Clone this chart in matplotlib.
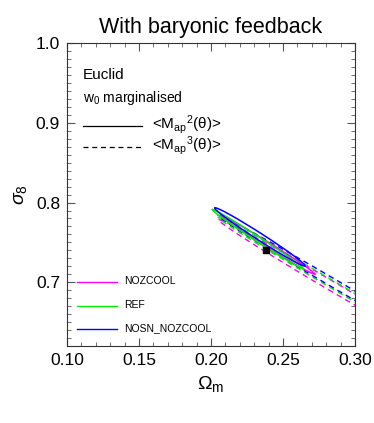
import matplotlib
matplotlib.use("Agg")
import matplotlib.pyplot as plt
from matplotlib.patches import Ellipse
from matplotlib.ticker import MultipleLocator

plt.rcParams['font.family'] = ['Liberation Sans', 'DejaVu Sans']
plt.rcParams['mathtext.fontset'] = 'custom'
plt.rcParams['mathtext.rm'] = 'Liberation Sans'
plt.rcParams['mathtext.it'] = 'Liberation Sans:italic'

# ---- data ----
models = ['NOZCOOL', 'REF', 'NOSN_NOZCOOL']
colors = ['#ff00ff', '#00ee00', '#0000ff']

# Map^2 (solid) contours: centre, length, thickness, angle (data space)
m2_om = [0.2398, 0.2325, 0.2340]
m2_s8 = [0.7465, 0.7542, 0.7569]
m2_w = [0.0976, 0.0975, 0.0961]
m2_h = [0.0050, 0.0048, 0.0068]
m2_ang = [-48.4, -49.6, -49.4]

# Map^3 (dashed) contours
m3_om = [0.285, 0.285, 0.285]
m3_s8 = [0.6940, 0.6965, 0.6990]
m3_w = [0.233, 0.233, 0.233]
m3_h = [0.0095, 0.0075, 0.0082]
m3_ang = [-46.7, -46.7, -46.7]

fid_om = [0.238]
fid_s8 = [0.740]

xticks = [0.10, 0.15, 0.20, 0.25, 0.30]
yticks = [0.7, 0.8, 0.9, 1.0]

fig = plt.figure(figsize=(3.74, 4.23), dpi=100)
ax = fig.add_axes([0.179, 0.182, 0.770, 0.716])

for i in range(3):
    ax.add_patch(Ellipse((m3_om[i], m3_s8[i]), m3_w[i], m3_h[i], angle=m3_ang[i],
                         fill=False, ec=colors[i], lw=1.0, ls=(0, (4, 3))))
for i in range(3):
    ax.add_patch(Ellipse((m2_om[i], m2_s8[i]), m2_w[i], m2_h[i], angle=m2_ang[i],
                         fill=False, ec=colors[i], lw=1.1))

ax.plot(fid_om, fid_s8, 's', color='black', ms=5)

ax.set_xlim(0.10, 0.30)
ax.set_ylim(0.62, 1.0)
ax.set_xticks(xticks)
ax.set_xticklabels([f'{v:.2f}' for v in xticks])
ax.set_yticks(yticks)
ax.set_yticklabels([f'{v:.1f}' for v in yticks])
ax.xaxis.set_minor_locator(MultipleLocator(0.01))
ax.yaxis.set_minor_locator(MultipleLocator(0.01))
ax.tick_params(which='both', direction='in', top=True, right=True, color='#555555')
ax.tick_params(which='major', length=6, width=0.8, labelsize=12.5, pad=5)
ax.tick_params(which='minor', length=3, width=0.6)
for s in ax.spines.values():
    s.set_color('#333333')
    s.set_linewidth(0.8)

ax.set_title('With baryonic feedback', fontsize=15.5, pad=7)
ax.set_xlabel(r'$\Omega_{\rm m}$', fontsize=14, labelpad=4)
ax.set_ylabel(r'$\sigma_{8}$', fontsize=14, labelpad=5)

# legend-like annotations
ax.text(0.1111, 0.960, 'Euclid', fontsize=11, va='center', ha='left')
ax.text(0.1111, 0.931, r'w$_0$ marginalised', fontsize=10, va='center', ha='left')
ax.plot([0.1111, 0.152], [0.8955, 0.8955], color='black', lw=0.9)
ax.text(0.1590, 0.8975, r'<M$_{\rm ap}$$^2$(θ)>', fontsize=11, va='center', ha='left')
ax.plot([0.1111, 0.152], [0.8695, 0.8695], color='black', lw=0.9, ls=(0, (4, 3)))
ax.text(0.1590, 0.8715, r'<M$_{\rm ap}$$^3$(θ)>', fontsize=11, va='center', ha='left')

leg_s8 = [0.7, 0.67, 0.641]
for i in range(3):
    ax.plot([0.1070, 0.1350], [leg_s8[i], leg_s8[i]], color=colors[i], lw=1.0)
    ax.text(0.1395, leg_s8[i] + 0.002, models[i], fontsize=7.5, va='center', ha='left')

fig.savefig('out.png', dpi=100)
